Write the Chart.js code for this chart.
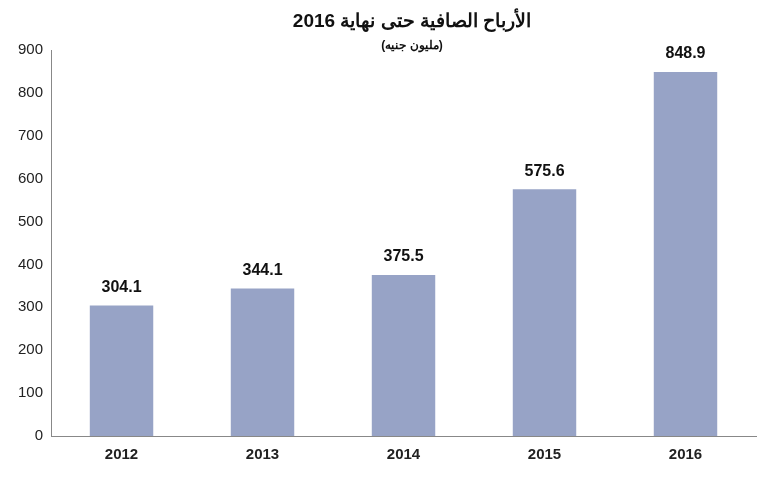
<!DOCTYPE html>
<html><head><meta charset="utf-8">
<script src="https://cdn.jsdelivr.net/npm/chart.js@4"></script>
<style>body{margin:0;background:#fff}#w{width:770px;height:482px}</style>
</head><body><div id="w"><canvas id="c"></canvas></div>
<script>
const categories=['2012','2013','2014','2015','2016'];
const values=[304.1,344.1,375.5,575.6,848.9];
const titleText='الأرباح الصافية حتى نهاية 2016';
const subtitleText='(مليون جنيه)';
const labelsPlugin={id:'lbl',afterDatasetsDraw(ch){const ctx=ch.ctx;const m=ch.getDatasetMeta(0);ctx.save();ctx.font='bold 16px "Liberation Sans", Arial';ctx.fillStyle='#111';ctx.textAlign='center';ctx.textBaseline='bottom';m.data.forEach((b,i)=>{ctx.fillText(values[i].toFixed(1),b.x,b.y-10);});
ctx.font='bold 19px "Liberation Sans", Arial';ctx.textBaseline='middle';ctx.fillText(titleText,412,22);ctx.font='bold 12px "Liberation Sans", Arial';ctx.fillText(subtitleText,412,46);ctx.restore();}};
new Chart(document.getElementById('c'),{type:'bar',data:{labels:categories,datasets:[{data:values,backgroundColor:'#97a3c6',barPercentage:0.45,categoryPercentage:1}]},
options:{responsive:true,maintainAspectRatio:false,animation:false,layout:{padding:{top:50,right:14,left:10,bottom:8}},
plugins:{legend:{display:false},tooltip:{enabled:false}},
scales:{y:{min:0,max:900,ticks:{stepSize:100,color:'#222',font:{size:15,family:'"Liberation Sans", Arial'},padding:8},grid:{display:false,drawTicks:false},border:{color:'#888'}},
x:{ticks:{color:'#222',font:{size:15,weight:'bold',family:'"Liberation Sans", Arial'},padding:10},grid:{display:false,drawTicks:false},border:{color:'#888'}}}},plugins:[labelsPlugin]});
</script></body></html>
